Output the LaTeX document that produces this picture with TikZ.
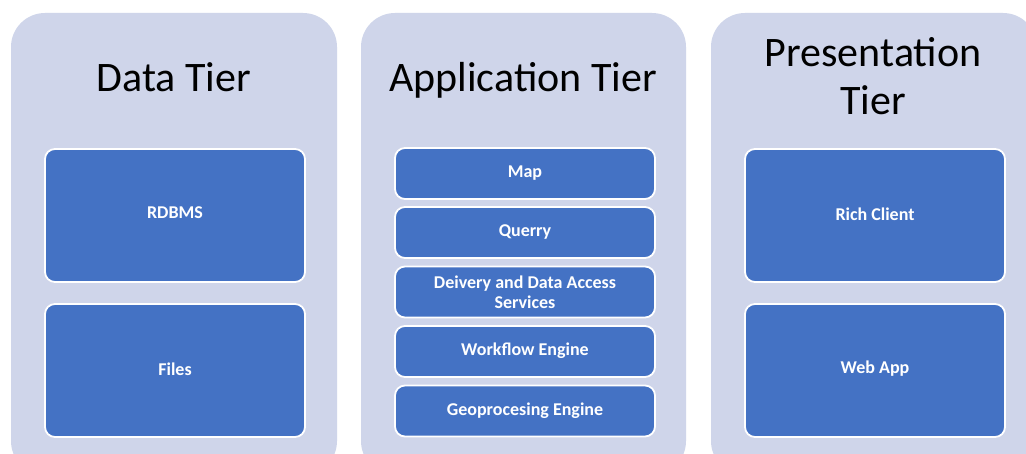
\documentclass[tikz,border=0pt]{standalone}
\usepackage{fontspec}
\setmainfont{Carlito}
\definecolor{tierbg}{HTML}{CFD5EA}
\definecolor{boxblue}{HTML}{4472C4}
\begin{document}
\begin{tikzpicture}[x=1pt,y=-1pt,
  tier/.style={fill=tierbg,draw=none,rounded corners=34pt},
  item/.style={fill=boxblue,draw=white,line width=1.8pt,rounded corners=10pt,inner sep=0pt,
    minimum width=260pt},
  lbl/.style={text=white,font=\bfseries\fontsize{18}{20}\selectfont,align=center,inner sep=0pt},
  title/.style={font=\fontsize{42}{48}\selectfont,text=black,align=center,inner sep=0pt,anchor=base}]
\useasboundingbox (0,0) rectangle (1026,454);
\clip (0,0) rectangle (1026,454);
\fill[white] (0,0) rectangle (1026,454);
% containers
\path[tier] (11,13) rectangle (337,475);
\path[tier] (361,13) rectangle (686,475);
\path[tier] (711,13) rectangle (1037,475);
% titles
\node[title] (tdata) at (174,92) {Data Tier};
\node[title] (tapp) at (523,92) {Application Tier};
\node[title] (tpres) at (873,67) {Presentation};
\node[title] (tpres2) at (873,115) {Tier};
% data tier
\node[item,minimum height=133pt] (rdbms) at (175,215.5) {};
\node[lbl] (rdbmsl) at (175,213) {RDBMS};
\node[item,minimum height=133pt] (files) at (175,370.5) {};
\node[lbl] (filesl) at (175,369) {Files};
% application tier
\node[item,minimum height=51pt] (map) at (525,173.5) {};
\node[lbl] (mapl) at (525,173) {Map};
\node[item,minimum height=51pt] (query) at (525,232.5) {};
\node[lbl] (queryl) at (525,232) {Querry};
\node[item,minimum height=51pt] (delivery) at (525,292) {};
\node[lbl] (deliveryl) at (525,292) {Deivery and Data Access\\Services};
\node[item,minimum height=51pt] (workflow) at (525,351.5) {};
\node[lbl] (workflowl) at (525,351) {Workflow Engine};
\node[item,minimum height=51pt] (geo) at (525,411) {};
\node[lbl] (geol) at (525,411) {Geoprocesing Engine};
% presentation tier
\node[item,minimum height=133pt] (rich) at (875,215.5) {};
\node[lbl] (richl) at (875,214) {Rich Client};
\node[item,minimum height=133pt] (web) at (875,370.5) {};
\node[lbl] (webl) at (875,369) {Web App};
\end{tikzpicture}
\end{document}
